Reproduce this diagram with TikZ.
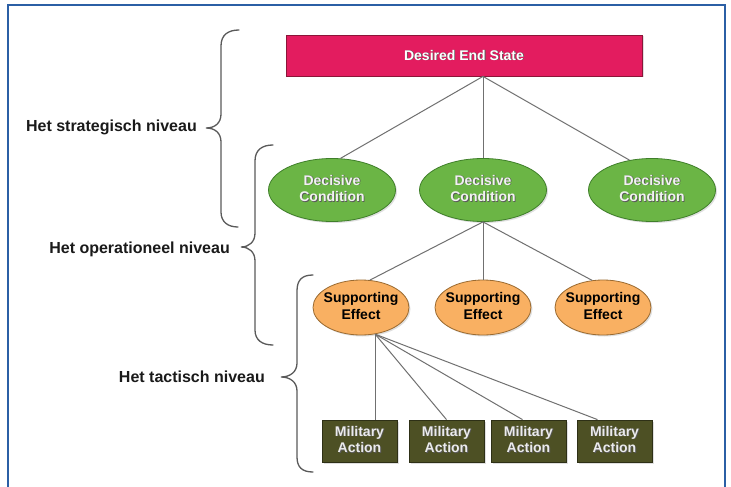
\documentclass[tikz,border=0pt]{standalone}
\usepackage{fontspec}
\setmainfont{Liberation Sans}
\usetikzlibrary{shapes.geometric,shadows,calc}
\definecolor{framecol}{HTML}{2B5FA5}
\definecolor{desfill}{HTML}{E31C5F}
\definecolor{desdraw}{HTML}{8B1538}
\definecolor{dcfill}{HTML}{6BB545}
\definecolor{dcdraw}{HTML}{3F7F2A}
\definecolor{sefill}{HTML}{F9B062}
\definecolor{sedraw}{HTML}{9A6A30}
\definecolor{mafill}{HTML}{4D5024}
\definecolor{madraw}{HTML}{2E3016}
\definecolor{conncol}{HTML}{707070}
\definecolor{bracecol}{HTML}{5A5A5A}
\definecolor{labcol}{HTML}{1A1A1A}
\newcommand\shd[1]{\leavevmode\rlap{\kern0.8pt\raisebox{-0.8pt}{\textcolor{black!65}{#1}}}#1}
\newcommand\twoline[2]{\makebox[10pt]{\begin{tabular}{@{}c@{}}#1\\#2\end{tabular}}}
\begin{document}
\begin{tikzpicture}[x=1pt,y=-1pt,
  boxfont/.style={font=\fontsize{14}{16.5}\selectfont\bfseries},
  shad/.style={drop shadow={opacity=0.25,shadow xshift=1.5pt,shadow yshift=-1.5pt}},
  desbox/.style={rectangle,draw=desdraw,fill=desfill,line width=0.8pt,minimum width=356pt,minimum height=41pt,inner sep=0pt,boxfont,text=white,shad},
  dcell/.style={ellipse,draw=dcdraw,fill=dcfill,line width=0.8pt,minimum width=127pt,minimum height=63pt,inner sep=0pt,boxfont,text=white!95!black,shad},
  seell/.style={ellipse,draw=sedraw,fill=sefill,line width=0.8pt,minimum width=96pt,minimum height=55pt,inner sep=0pt,boxfont,text=black,shad},
  mabox/.style={rectangle,draw=madraw,fill=mafill,line width=0.8pt,minimum width=75pt,minimum height=42pt,inner sep=0pt,boxfont,text=white!92!black,shad},
  conn/.style={draw=conncol,line width=1pt},
  bracestyle/.style={draw=bracecol,line width=1.3pt,line cap=round},
  lab/.style={font=\fontsize{16}{19}\selectfont\bfseries,text=labcol,inner sep=0pt,anchor=base east}]
\useasboundingbox (0,0) rectangle (731,487);
\fill[white] (0,0) rectangle (731,487);
\draw[framecol,line width=1.5pt] (8,488) -- (8,5) -- (725,5) -- (725,488);

% nodes
\node[desbox] (des) at (464,55.5) {\shd{Desired End State}};
\node[dcell] (dc1) at (332,190) {\twoline{\shd{Decisive}}{\shd{Condition}}};
\node[dcell] (dc2) at (483,190) {\twoline{\shd{Decisive}}{\shd{Condition}}};
\node[dcell] (dc3) at (652,190) {\twoline{\shd{Decisive}}{\shd{Condition}}};
\node[seell] (se1) at (361,307.5) {\twoline{Supporting}{Effect}};
\node[seell] (se2) at (483,307.5) {\twoline{Supporting}{Effect}};
\node[seell] (se3) at (603,307.5) {\twoline{Supporting}{Effect}};
\node[mabox] (ma1) at (359.5,441) {\twoline{\shd{Military}}{\shd{Action}}};
\node[mabox] (ma2) at (446.5,441) {\twoline{\shd{Military}}{\shd{Action}}};
\node[mabox] (ma3) at (528.5,441) {\twoline{\shd{Military}}{\shd{Action}}};
\node[mabox] (ma4) at (614.5,441) {\twoline{\shd{Military}}{\shd{Action}}};

% connectors
\coordinate (j1) at (dc2.north |- des.south);
\draw[conn] (j1) -- (dc1.75);
\draw[conn] (j1) -- (dc2.north);
\draw[conn] (j1) -- (dc3.127);
\draw[conn] (dc2.south) -- (se1.72);
\draw[conn] (dc2.south) -- (se2.north);
\draw[conn] (dc2.south) -- (se3.112);
\coordinate (j3) at (se1.-62);
\draw[conn] (j3) -- (j3 |- ma1.north);
\draw[conn] (j3) -- (ma2.north);
\draw[conn] (j3) -- ($(ma3.north)+(-6,0)$);
\draw[conn] (j3) -- ($(ma4.north)+(-17,0)$);

% braces
\coordinate (t1) at (206,128);
\coordinate (t2) at (241,247);
\coordinate (t3) at (281,377);
\draw[bracestyle] (239,30) .. controls (228,30) and (221,35) .. (221,46) -- (221,114)
  .. controls (221,123) and (215,128) .. (t1) .. controls (215,128) and (221,133) .. (221,142)
  -- (221,212) .. controls (221,222) and (228,227) .. (238,227);
\draw[bracestyle] (273,145) .. controls (262,145) and (255,150) .. (255,161) -- (255,233)
  .. controls (255,242) and (249,247) .. (t2) .. controls (249,247) and (255,252) .. (255,261)
  -- (255,330) .. controls (255,340) and (262,345) .. (273,345);
\draw[bracestyle] (313,275) .. controls (302,275) and (297,280) .. (297,291) -- (297,363)
  .. controls (297,372) and (290,377) .. (t3) .. controls (290,377) and (297,382) .. (297,391)
  -- (297,457) .. controls (297,467) and (302,472) .. (313,472);

% labels
\node[lab] (l1) at (197,131.5) {Het strategisch niveau};
\node[lab] (l2) at (230,253.5) {Het operationeel niveau};
\node[lab] (l3) at (265,382.5) {Het tactisch niveau};
\end{tikzpicture}
\end{document}
